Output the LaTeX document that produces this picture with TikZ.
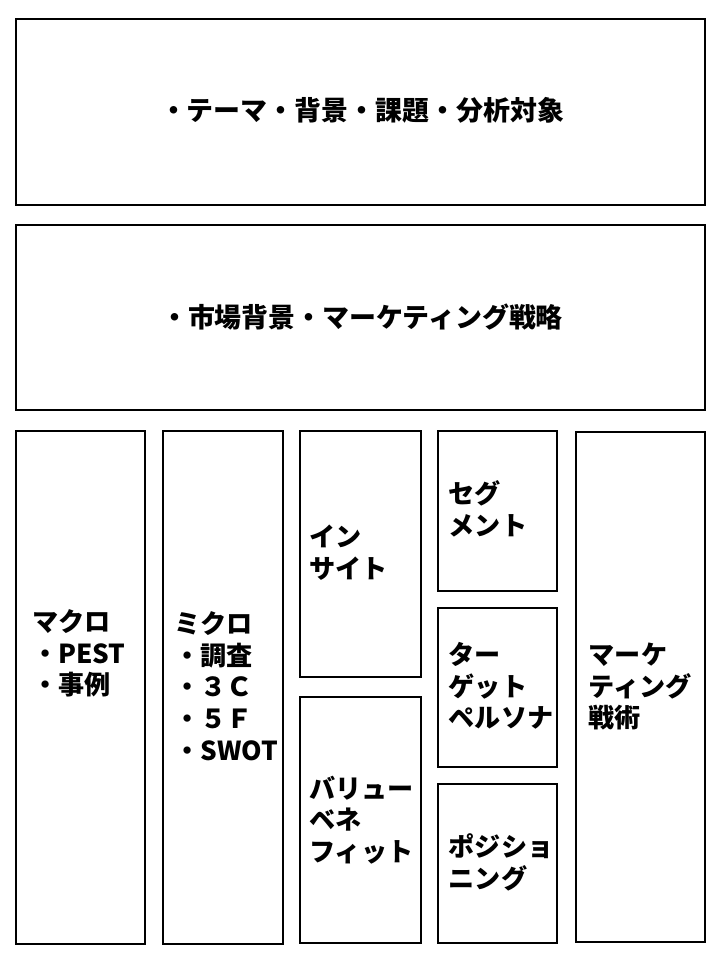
\documentclass[tikz,border=0pt]{standalone}
\usepackage{fontspec}
\setmainfont{Noto Sans CJK JP}
\usetikzlibrary{fit}
\tikzset{
  box/.style={draw=black, line width=2.2pt, inner sep=0pt, fill=none},
  lbl/.style={font=\fontsize{19.6pt}{23.8pt}\selectfont\bfseries, inner sep=0pt, align=left, anchor=west},
  ctr/.style={font=\fontsize{20.2pt}{24pt}\selectfont\bfseries, inner sep=0pt}
}
\begin{document}
\begin{tikzpicture}[x=0.75pt,y=-0.75pt]
\useasboundingbox[fill=white] (0,0) rectangle (720,960);
\node[box, fit={(16,19)(705,205)}] (top) {};
\node[box, fit={(16,225)(705,410)}] (mid) {};
\node[box, fit={(16,431)(145,944)}] (macro) {};
\node[box, fit={(163,431)(283,944)}] (micro) {};
\node[box, fit={(300,431)(421,677)}] (insight) {};
\node[box, fit={(300,697)(421,943)}] (value) {};
\node[box, fit={(438,431)(557,591)}] (segment) {};
\node[box, fit={(438,608)(557,767)}] (target) {};
\node[box, fit={(438,784)(557,943)}] (position) {};
\node[box, fit={(576,432)(705,942)}] (tactics) {};

\node[ctr] (toptext) at (362,110) {・テーマ・背景・課題・分析対象};
\node[ctr] (midtext) at (362,317) {・市場背景・マーケティング戦略};
\node[lbl] (macrotext) at (32,653.5) {マクロ\\・PEST\\・事例};
\node[lbl] (microtext) at (174,686) {ミクロ\\・調査\\・３Ｃ\\・５Ｆ\\・SWOT};
\node[lbl] (insighttext) at (309,552.5) {イン\\サイト};
\node[lbl] (valuetext) at (309,820) {バリュー\\ベネ\\フィット};
\node[lbl] (segmenttext) at (448.5,508.5) {セグ\\メント};
\node[lbl] (targettext) at (448.5,686) {ター\\ゲット\\ペルソナ};
\node[lbl] (positiontext) at (448.5,862) {ポジショ\\ニング};
\node[lbl] (tacticstext) at (588.5,686.5) {マーケ\\ティング\\戦術};
\end{tikzpicture}
\end{document}
